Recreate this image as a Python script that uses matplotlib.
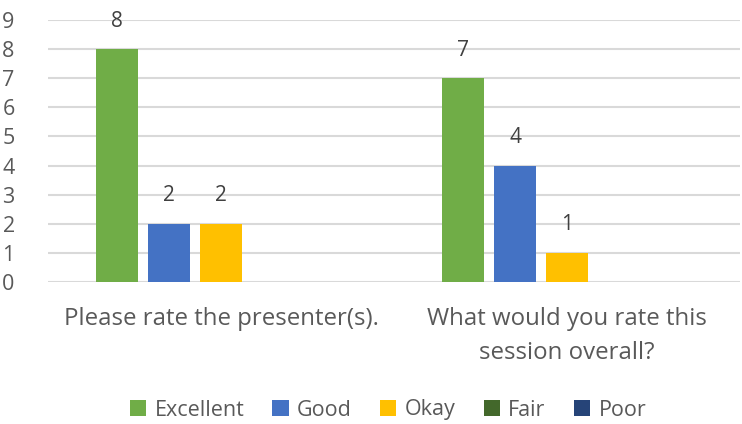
import matplotlib.pyplot as plt
import numpy as np

plt.rcParams['font.family'] = ['Open Sans', 'DejaVu Sans']

categories = ['Please rate the presenter(s).', 'What would you rate this\nsession overall?']
series_names = ['Excellent', 'Good', 'Okay', 'Fair', 'Poor']
excellent = [8, 7]
good = [2, 4]
okay = [2, 1]
fair = [None, None]
poor = [None, None]
colors = ['#70ad47', '#4472c4', '#ffc000', '#43682b', '#264478']

series = [excellent, good, okay, fair, poor]
text_col = '#595959'

fig = plt.figure(figsize=(7.42, 4.24), dpi=100)
ax = fig.add_axes([48 / 742, 1 - 282 / 424, 692 / 742, 262 / 424])

x = np.arange(len(categories))
width = 0.121
step = 0.150
for i, (name, vals, c) in enumerate(zip(series_names, series, colors)):
    pos = x + (i - 2) * step
    heights = [v if v is not None else 0 for v in vals]
    bars = ax.bar(pos, heights, width, color=c, label=name, zorder=3)
    for b, v in zip(bars, vals):
        if v is not None:
            ax.text(b.get_x() + b.get_width() / 2, v + 0.6, str(v),
                    ha='center', va='bottom', fontsize=15, color='#404040')

ax.set_xlim(-0.5, 1.5)
ax.set_ylim(0, 9)
ax.set_yticks(range(10))
ax.yaxis.grid(True, color='#d9d9d9', linewidth=1.5, zorder=0)
ax.set_axisbelow(True)
for s in ax.spines.values():
    s.set_visible(False)
ax.tick_params(axis='y', length=0, pad=24, labelsize=15.5, labelcolor=text_col)
ax.set_xticks(x)
ax.set_xticklabels(categories, fontsize=17.3, color=text_col, va='top', linespacing=1.55)
ax.tick_params(axis='x', length=0, pad=18)

fig.legend(loc='center', bbox_to_anchor=(0.523, 1 - 410 / 424), ncol=5, frameon=False,
           fontsize=15.5, labelcolor=text_col, handlelength=0.75, handleheight=0.75,
           handletextpad=0.4, columnspacing=1.3, borderaxespad=0)

fig.savefig('out.png', dpi=100)
